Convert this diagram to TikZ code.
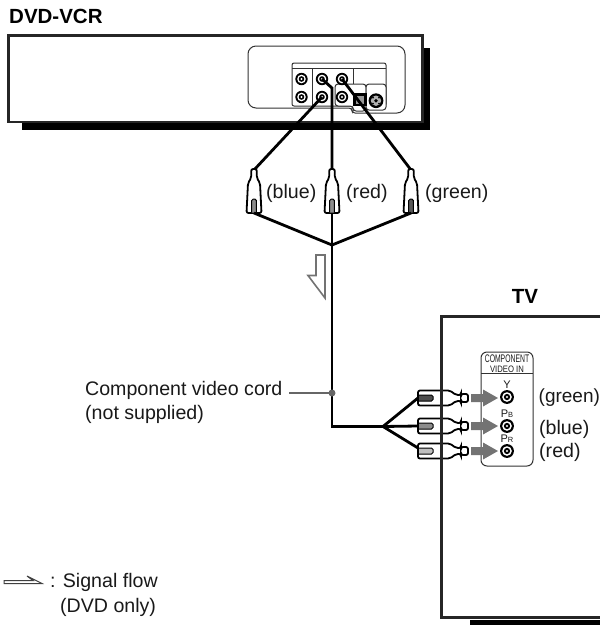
\documentclass[tikz,border=0pt]{standalone}
\usepackage{fontspec}
\setmainfont{Liberation Sans}
\usetikzlibrary{calc}
\newcommand{\rcajack}[3][1]{%
  \coordinate (#2) at (#3);
  \fill[black] (#2) circle (6.2*#1);
  \fill[white] (#2) circle (4.3*#1);
  \fill[black] (#2) circle (2.8*#1);
  \fill[white] (#2) circle (1.1*#1);
}
% vertical plug, tip up
\newcommand{\vplug}[4]{% name, x, top y, insert colour
  \coordinate (#1top) at (#2,#3);
  \coordinate (#1bot) at (#2,#3+44);
  \draw[plugline,fill=white,rounded corners=2] (#2-2.8,#3) -- (#2+2.8,#3) -- (#2+2.8,#3+9)
     -- (#2+6,#3+14) -- (#2+7.5,#3+44) -- (#2-7.5,#3+44) -- (#2-6,#3+14) -- (#2-2.8,#3+9) -- cycle;
  \draw[insertline,fill=#4,rounded corners=1.5] (#2-2.3,#3+43.5) -- (#2-2.3,#3+30) -- (#2+2.3,#3+30) -- (#2+2.3,#3+43.5);
}
% horizontal plug, tip right
\newcommand{\hplug}[4]{% name, left x, centre y, insert colour
  \coordinate (#1left) at (#2,#3);
  \coordinate (#1tip) at (#2+50,#3);
  \draw[plugline,fill=white,rounded corners=2] (#2,#3-7.5) -- (#2+32,#3-7.5) -- (#2+38,#3-3)
     -- (#2+43,#3-3) -- (#2+43,#3-4) -- (#2+50,#3-4) -- (#2+50,#3+4) -- (#2+43,#3+4) -- (#2+43,#3+3)
     -- (#2+38,#3+3) -- (#2+32,#3+7.5) -- (#2,#3+7.5) -- cycle;
  \draw[insertline,fill=#4,rounded corners=1.5] (#2+1,#3-3) -- (#2+15,#3-3) -- (#2+15,#3+3) -- (#2+1,#3+3);
}
\tikzset{
  x=1pt,y=-1pt,
  txt/.style={font=\fontsize{19.6}{24}\selectfont,inner sep=0pt,anchor=base west,text=black!90},
  heading/.style={font=\fontsize{20.5}{24}\selectfont\bfseries,inner sep=0pt,anchor=base,text=black},
  tiny/.style={font=\fontsize{11}{11}\selectfont,inner sep=0pt,anchor=base,text=black!90},
  boxline/.style={line width=2.6pt,draw=black!85},
  thin line/.style={line width=1pt,draw=black!80},
  plugline/.style={line width=1.8pt,draw=black},
  insertline/.style={line width=1pt,draw=black},
  cord/.style={line width=2.8pt,draw=black},
  flowgray/.style={line width=1.6pt,draw=black!55,fill=white},
}
\begin{document}
\begin{tikzpicture}
\useasboundingbox (0,0) rectangle (600,625);
% headings
\node[heading,anchor=base west] (vcrlabel) at (9,23) {DVD-VCR};
\node[heading] (tvlabel) at (525,303) {TV};
% VCR
\fill[black] (22,123) rectangle (429.5,130);
\fill[black] (422,48) rectangle (429.5,130);
\draw[boxline,fill=white] (8.5,35.5) rectangle (422.5,122);
% VCR rear panel
\draw[thin line,rounded corners=8] (300,108) -- (248,108) -- (248,46) -- (405,46) -- (405,113) -- (375,113);
\draw[thin line,rounded corners=3] (375,113) -- (352,113) -- (352,108) -- (300,108);
\draw[thin line,fill=white,rounded corners=2] (292,63) rectangle (386,106);
\draw[thin line] (292,68) -- (386,68);
\draw[thin line] (312,68) -- (312,106);
\draw[thin line] (353,68) -- (353,84);
\draw[thin line,fill=white,rounded corners=3] (335,106) -- (335,84) -- (366,84) -- (366,111) -- (353,111) -- (353,106) -- cycle;
\draw[thin line,fill=white,rounded corners=3] (366,84) rectangle (386,110);
\rcajack{ja}{301.5,79}
\rcajack{jb}{301.5,97}
\rcajack{jr}{322,79}
\rcajack{jblue}{322,97}
\rcajack{jg}{342,79}
\rcajack{jc}{342,97}
\fill[black] (353,93) rectangle (366.5,106);
\fill[black!40] (355.5,95.5) rectangle (364,103.5);
\coordinate (sv) at (376,100.7);
\fill[black] (sv) circle (7.4);
\fill[black!30] (sv) circle (5.2);
\fill[black] (sv) circle (1.8);
\fill[black] ($(sv)+(-3,-3)$) circle (1) ($(sv)+(3,-3)$) circle (1) ($(sv)+(-3,3)$) circle (1) ($(sv)+(3,3)$) circle (1);
% plugs top
\coordinate (jun1) at (332,245);
\coordinate (bend) at (332,88);
\draw[cord] (jblue) -- (254,170);
\draw[cord] (jr) -- (bend) -- (332,170);
\draw[cord] (jg) -- (411,170);
\vplug{pb}{254}{169}{black!45}
\vplug{pr}{332}{169}{black!45}
\vplug{pg}{411}{169}{black!65}
% cords
\coordinate (jun2) at (383,426.5);
\coordinate (corner) at (332,426.5);
\draw[cord] (pbbot) -- (jun1);
\draw[cord] (pgbot) -- (jun1);
\draw[cord,line join=miter] (prbot) -- (jun1) -- (corner) -- (jun2);
% labels of plugs
\node[txt] (lblue) at (266,198) {(blue)};
\node[txt] (lred) at (346,198) {(red)};
\node[txt] (lgreen) at (425,198) {(green)};
% flow arrow
\draw[flowgray,line join=miter] (316,255) -- (325,255) -- (325,298) -- (308,275.5) -- (316,275.5) -- cycle;
% leader
\node[txt] (cordlabel) at (85,395) {Component video cord};
\node[txt] (cordlabel2) at (85,419) {(not supplied)};
\coordinate (lstart) at (289,393);
\coordinate (ldot) at (332,393);
\draw[line width=1.3pt,draw=black!60] (lstart) -- (ldot);
\fill[black!60] (ldot) circle (3.5);
% TV
\fill[black] (470,620) rectangle (600,625);
\draw[boxline] (600,316.5) -- (441.5,316.5) -- (441.5,617.5) -- (600,617.5);
% TV panel
\draw[thin line,rounded corners=6] (481,352) rectangle (533,466);
\draw[thin line] (481,373.5) -- (533,373.5);
\node[tiny] (comp) at (507,362.5) {\scalebox{.62}[1]{COMPONENT}};
\node[tiny] (vin) at (507,372) {\scalebox{.7}[.85]{VIDEO IN}};
\node[tiny] (ly) at (507,388) {Y};
\node[tiny] (lpb) at (507,417) {P{\fontsize{7.5}{7.5}\selectfont B}};
\node[tiny] (lpr) at (507,442) {P{\fontsize{7.5}{7.5}\selectfont R}};
\rcajack[1.12]{ty}{507,397}
\rcajack[1.12]{tb}{507,426}
\rcajack[1.12]{tr}{507,451}
% horizontal plugs
\hplug{hy}{418}{398}{black!70}
\hplug{hb}{418}{426}{black!45}
\hplug{hr}{418}{451}{black!25}
\draw[cord] (jun2) -- (hyleft);
\draw[cord] (jun2) -- (hbleft);
\draw[cord] (jun2) -- (418,448);
% TV left edge over plugs
\draw[boxline] (441.5,370) -- (441.5,480);
% arrows into jacks
\foreach \c in {398,426,451}{
  \fill[black!55] (471,\c-4) -- (483,\c-4) -- (483,\c-8.5) -- (498,\c) -- (483,\c+8.5) -- (483,\c+4) -- (471,\c+4) -- cycle;
}
% colour labels
\node[txt,font=\fontsize{19}{24}\selectfont] (tg) at (538.5,402) {(green)};
\node[txt] (tbl) at (539,434.5) {(blue)};
\node[txt] (trd) at (539,457) {(red)};
% legend
\draw[line width=1pt,draw=black!75,fill=white] (4,580.5) -- (33,580.5) -- (27,576) -- (42,583.5) -- (4,583.5) -- cycle;
\node[txt] (sig) at (50,587) {: Signal flow};
\node[txt] (dvd) at (60,612) {(DVD only)};
\end{tikzpicture}
\end{document}
